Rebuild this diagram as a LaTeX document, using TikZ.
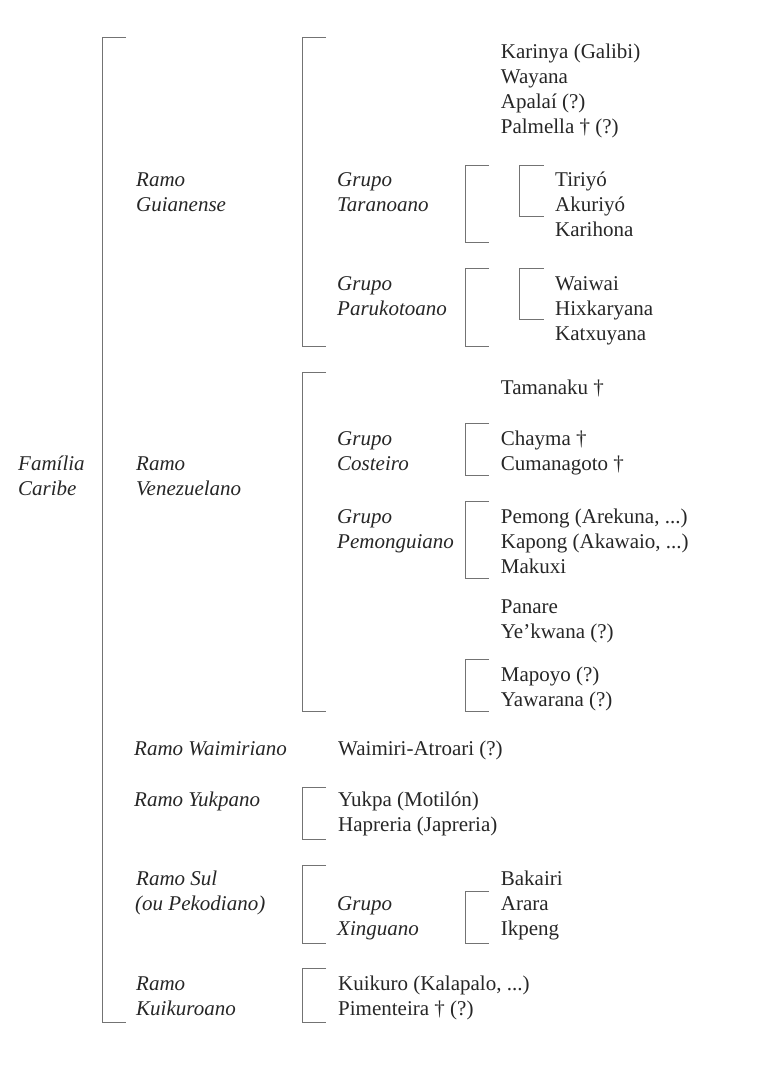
\documentclass[tikz,border=0pt]{standalone}
\usepackage{fontspec}
\setmainfont{Liberation Serif}

\begin{document}
\begin{tikzpicture}[x=1pt,y=-1pt,
        lang/.style={anchor=base west, inner sep=0pt, text=black!85, font=\fontsize{21}{25}\selectfont},
        grp/.style={lang, font=\fontsize{21}{25}\selectfont\itshape},
        bracket/.style={draw=black!55, line width=0.7pt}]
                \def \tick {24}
                \useasboundingbox (0,0) rectangle (779,1086);
                \foreach \x/\a/\b in {102/37/1022, 302/37/346, 465/165/242, 519.5/165/216, 465/268.5/346, 519.5/268.5/319.5,
                        302/372.5/711, 465/423.5/475, 465/501.5/578, 465/659.5/711,
                        302/787/839, 302/865/943, 465/891.5/943, 302/968.5/1022}
                {
                    \draw[bracket] (\x+\tick,\a) -- (\x,\a) -- (\x,\b) -- (\x+\tick,\b);
                }
                \foreach \n/\x/\y/\t in {fam1/18/470/Família, fam2/18/495/Caribe,
                        guia1/136/186.5/Ramo, guia2/136/211.5/Guianense,
                        tara1/337/186.5/Grupo, tara2/337/211.5/Taranoano,
                        paru1/337/290/Grupo, paru2/337/315/Parukotoano,
                        vene1/136/470/Ramo, vene2/136/495/Venezuelano,
                        cost1/337/445/Grupo, cost2/337/470/Costeiro,
                        pemo1/337/523/Grupo, pemo2/337/548/Pemonguiano,
                        waim/134/755/Ramo Waimiriano, yukp/134/806/Ramo Yukpano,
                        sul1/136/885/Ramo Sul, sul2/135/910/(ou Pekodiano),
                        xing1/337/910/Grupo, xing2/337/935/Xinguano,
                        kuik1/136/990/Ramo, kuik2/136/1015/Kuikuroano}
                {
                    \node[grp] (\n) at (\x,\y) {\t};
                }
                \foreach \n/\x/\y/\t in {kari/500.7/58.5/Karinya (Galibi), waya/500.7/83.5/Wayana,
                        apal/500.7/108.5/Apalaí (?), palm/500.7/133.5/Palmella † (?),
                        tiri/555/186.5/Tiriyó, akur/555/211.5/Akuriyó, karh/555/236.5/Karihona,
                        waiw/555/290/Waiwai, hixk/555/315/Hixkaryana, katx/555/340/Katxuyana,
                        tama/500.7/394/Tamanaku †, chay/500.7/445/Chayma †, cuma/500.7/470/Cumanagoto †,
                        pemg/500.7/523/{Pemong (Arekuna, ...)}, kapo/500.7/548/{Kapong (Akawaio, ...)},
                        maku/500.7/573/Makuxi, pana/500.7/613/Panare, yekw/500.7/638/Ye’kwana (?),
                        mapo/500.7/681/Mapoyo (?), yawa/500.7/706/Yawarana (?),
                        watr/338/755/Waimiri-Atroari (?),
                        yuk/338/806/Yukpa (Motilón), hapr/338/831/Hapreria (Japreria),
                        baka/500.7/885/Bakairi, arar/500.7/910/Arara, ikpe/500.7/935/Ikpeng,
                        kuro/338/990/{Kuikuro (Kalapalo, ...)}, pime/338/1015/Pimenteira † (?)}
                {
                    \node[lang] (\n) at (\x,\y) {\t};
                }
            \end{tikzpicture}
\end{document}
